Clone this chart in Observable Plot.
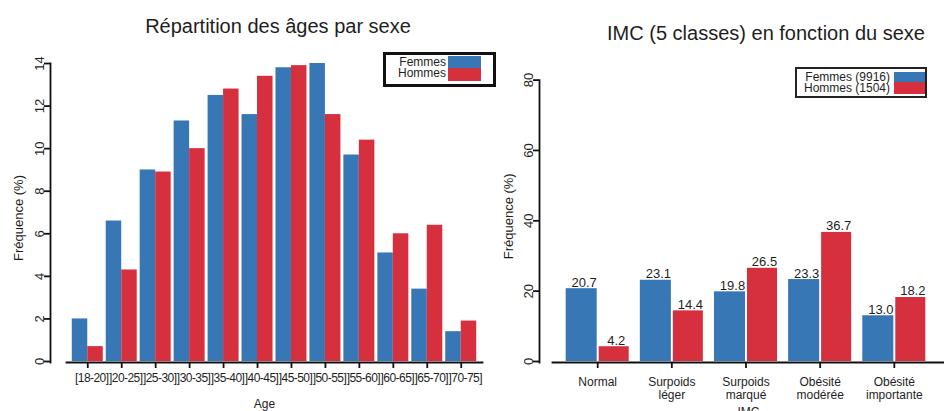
<!DOCTYPE html>
<html><head><meta charset="utf-8">
<script src="https://cdn.jsdelivr.net/npm/d3@7"></script>
<script src="https://cdn.jsdelivr.net/npm/@observablehq/plot@0.6"></script>
<style>
html,body{margin:0;padding:0;background:#fff;overflow:hidden;}
#root{position:relative;width:944px;height:411px;font-family:"Liberation Sans",Arial,sans-serif;color:#1e1e1e;overflow:hidden;}
.chart{position:absolute;top:0;}
.title{position:absolute;font-size:20px;line-height:20px;white-space:nowrap;transform:translateX(-50%);}
.abs{position:absolute;box-sizing:border-box;}
.lt{position:absolute;font-size:12px;line-height:12px;white-space:nowrap;text-align:right;}
#left [aria-label="x-axis tick label"] text{letter-spacing:-0.55px;}
</style></head>
<body><div id="root"></div>
<script>
// ---- data ----
const ageGroups = ["[18-20]","]20-25]","]25-30]","]30-35]","]35-40]","]40-45]","]45-50]","]50-55]","]55-60]","]60-65]","]65-70]","]70-75]"];
const sexes = ["Femmes","Hommes"];
const ageFemmes = [2.0,6.6,9.0,11.3,12.5,11.6,13.8,14.0,9.7,5.1,3.4,1.4];
const ageHommes = [0.7,4.3,8.9,10.0,12.8,13.4,13.9,11.6,10.4,6.0,6.4,1.9];
const ageTicks = [0,2,4,6,8,10,12,14];
const imcClasses = ["Normal","Surpoids\nléger","Surpoids\nmarqué","Obésité\nmodérée","Obésité\nimportante"];
const imcFemmes = [20.7,23.1,19.8,23.3,13.0];
const imcHommes = [4.2,14.4,26.5,36.7,18.2];
const imcSeries = ["Femmes (9916)","Hommes (1504)"];
const imcTicks = [0,20,40,60,80];
const titleLeft = "Répartition des âges par sexe";
const titleRight = "IMC (5 classes) en fonction du sexe";
const colors = ["#3777b5","#d62f3e"];

const root = document.getElementById("root");
const font = "'Liberation Sans', Arial, sans-serif";
const ink = "#1e1e1e";
const axisInk = "#111";

// ---- left chart ----
const ageData = ageGroups.flatMap((g,i)=>[{g,sex:sexes[0],v:ageFemmes[i]},{g,sex:sexes[1],v:ageHommes[i]}]);
const left = Plot.plot({
  width: 500, height: 411,
  marginLeft: 66, marginRight: 18, marginTop: 63, marginBottom: 49,
  style: {fontFamily: font, fontSize: "12px", color: ink, background: "transparent", overflow: "visible"},
  x: {type: "band", domain: ageGroups, paddingInner: 0.087, paddingOuter: 0.17, round: false},
  y: {domain: [0,14], insetBottom: 1},
  color: {domain: sexes, range: colors},
  marks: [
    Plot.barY(ageData.filter(d=>d.sex===sexes[0]), {x:"g", y:"v", fill:"sex", insetRight: 15.5}),
    Plot.barY(ageData.filter(d=>d.sex===sexes[1]), {x:"g", y:"v", fill:"sex", insetLeft: 15.5}),
    Plot.frame({anchor: "left", dx: -16, stroke: axisInk, strokeWidth: 1.8}),
    Plot.frame({anchor: "bottom", stroke: axisInk, strokeWidth: 1.8}),
    Plot.axisY({ticks: ageTicks, tickRotate: -90, tickSize: 6, tickPadding: 1, dx: -16, label: null, fontSize: 13, stroke: axisInk, strokeWidth: 1.8}),
    Plot.axisX({tickSize: 6, tickFormat: () => "", label: null, stroke: axisInk, strokeWidth: 1.8}),
    Plot.axisX({tickSize: 0, tickPadding: 11, dx: 4, label: null, fontSize: 12}),
    Plot.text(["Fréquence (%)"], {frameAnchor: "left", textAnchor: "middle", rotate: -90, dx: -48, dy: 5, fontSize: 13, fill: ink}),
    Plot.text(["Age"], {frameAnchor: "bottom", textAnchor: "middle", lineAnchor: "top", dy: 37, dx: -10, fontSize: 12, fill: ink})
  ]
});
left.id = "left";
left.classList.add("chart");
left.style.left = "0px";
root.appendChild(left);

// ---- right chart ----
const imcData = imcClasses.flatMap((c,i)=>[{c,sex:sexes[0],v:imcFemmes[i]},{c,sex:sexes[1],v:imcHommes[i]}]);
const fmt = d3.format(".1f");
const right = Plot.plot({
  width: 454, height: 411,
  marginLeft: 62, marginRight: 0, marginTop: 79.6, marginBottom: 49,
  style: {fontFamily: font, fontSize: "12px", color: ink, background: "transparent", overflow: "visible"},
  x: {type: "band", domain: imcClasses, paddingInner: 0.15, paddingOuter: 0.1845, insetRight: 5, round: false},
  y: {domain: [0,80], insetBottom: 1},
  color: {domain: sexes, range: colors},
  marks: [
    Plot.barY(imcData.filter(d=>d.sex===sexes[0]), {x:"c", y:"v", fill:"sex", insetRight: 32}),
    Plot.barY(imcData.filter(d=>d.sex===sexes[1]), {x:"c", y:"v", fill:"sex", insetLeft: 33}),
    Plot.text(imcData.filter(d=>d.sex===sexes[0]), {x:"c", y:"v", text: d=>fmt(d.v), dx: -13.5, dy: -2, lineAnchor: "bottom", fontSize: 13, fill: ink}),
    Plot.text(imcData.filter(d=>d.sex===sexes[1]), {x:"c", y:"v", text: d=>fmt(d.v), dx: 18.5, dy: -2, lineAnchor: "bottom", fontSize: 13, fill: ink}),
    Plot.frame({anchor: "left", dx: -13, stroke: axisInk, strokeWidth: 1.8}),
    Plot.frame({anchor: "bottom", stroke: axisInk, strokeWidth: 1.8}),
    Plot.axisY({ticks: imcTicks, tickRotate: -90, tickSize: 6, tickPadding: 1, dx: -13, label: null, fontSize: 13, stroke: axisInk, strokeWidth: 1.8}),
    Plot.axisX({tickSize: 6, tickPadding: 9, label: null, fontSize: 12, lineHeight: 1.05, stroke: axisInk, strokeWidth: 1.8}),
    Plot.text(["Fréquence (%)"], {frameAnchor: "left", textAnchor: "middle", rotate: -90, dx: -44, dy: -5, fontSize: 13, fill: ink}),
    Plot.text(["IMC"], {frameAnchor: "bottom", textAnchor: "middle", lineAnchor: "top", dy: 45, fontSize: 12, fill: ink})
  ]
});
right.classList.add("chart");
right.style.left = "490px";
root.appendChild(right);

// ---- titles ----
function addTitle(text, cx, top){
  const d = document.createElement("div");
  d.className = "title"; d.textContent = text;
  d.style.left = cx + "px"; d.style.top = top + "px";
  root.appendChild(d);
}
addTitle(titleLeft, 278, 16);
addTitle(titleRight, 766, 22.5);

// ---- legends ----
function box(l,t,w,h,b){
  const d = document.createElement("div"); d.className = "abs";
  Object.assign(d.style,{left:l+"px",top:t+"px",width:w+"px",height:h+"px",border:b,background:"#fff"});
  root.appendChild(d);
}
function swatch(l,t,w,h,c){
  const d = document.createElement("div"); d.className = "abs";
  Object.assign(d.style,{left:l+"px",top:t+"px",width:w+"px",height:h+"px",background:c});
  root.appendChild(d);
}
function label(text,rightEdge,top){
  const d = document.createElement("div"); d.className = "lt"; d.textContent = text;
  d.style.right = (944-rightEdge)+"px"; d.style.top = top+"px";
  root.appendChild(d);
}
box(383,52,113,35,"3px solid #111");
label(sexes[0],446,56); label(sexes[1],446,66.5);
swatch(448,55.7,33,12,colors[0]); swatch(448,67.7,33,13,colors[1]);

box(795,67,132,31,"2px solid #222");
label(imcSeries[0],890,70.5); label(imcSeries[1],890,82.3);
swatch(894,71.5,31,10,colors[0]); swatch(894,81.5,31,12,colors[1]);
</script>
</body></html>
